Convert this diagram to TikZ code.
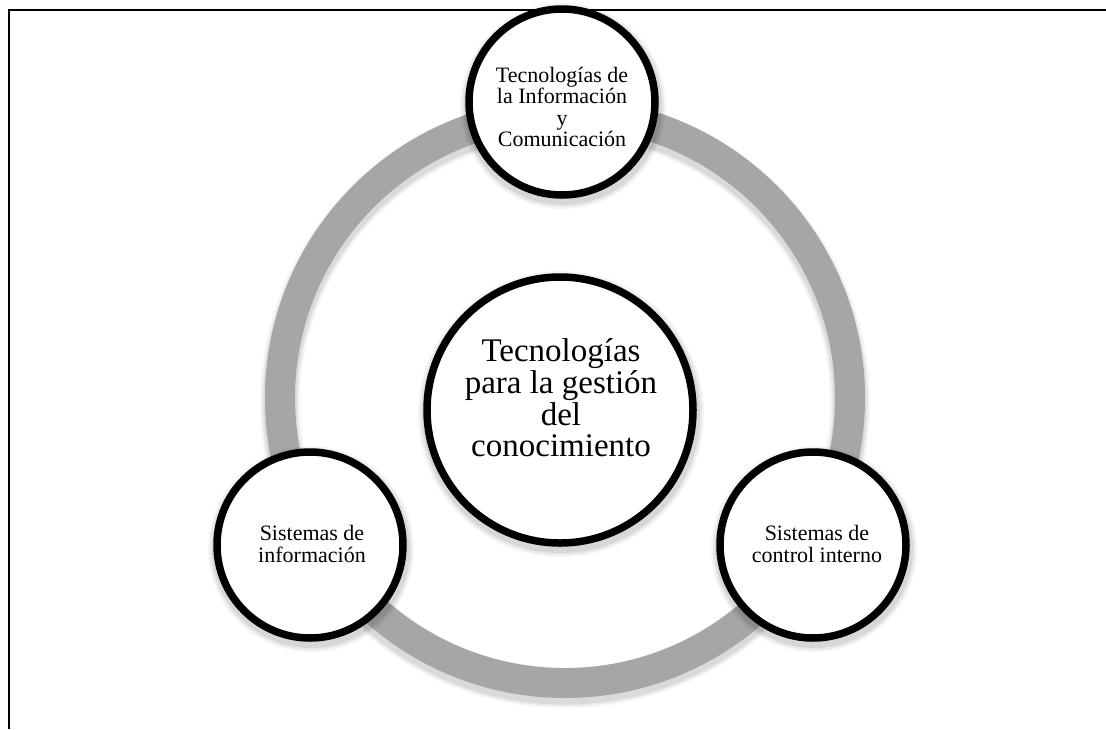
\documentclass[tikz,border=0pt]{standalone}
\usepackage{fontspec}
\setmainfont{Liberation Serif}
\definecolor{ringgray}{HTML}{A6A6A6}

\begin{document}
\begin{tikzpicture}[x=1pt,y=-1pt,
  bubble/.style={circle, draw=black, line width=7.5pt, fill=white, inner sep=0pt},
  small/.style={bubble, minimum size=186pt},
  big/.style={bubble, minimum size=266pt},
  smalltxt/.style={align=center, inner sep=0pt, text=black,
    font=\fontsize{22}{21.5}\selectfont},
  bigtxt/.style={align=center, inner sep=0pt, text=black,
    font=\fontsize{33}{31.7}\selectfont}]

  % page extent
  \path[use as bounding box, fill=white] (0,0) rectangle (1106,729);

  % frame rules, top and left, as thin bars
  \fill[black] (8,729) rectangle (10,9);
  \fill[black] (8,9) rectangle (1106,11);

  % soft shadow under the cycle ring
  \foreach \w/\o in {40/0.04, 36/0.05, 33/0.06} {
    \draw[line width=\w pt, black, opacity=\o] (565,403) circle (285);
  }
  % the cycle ring
  \draw[line width=30pt, ringgray] (565,398) circle (285);

  % soft shadows under the circles
  \foreach \x/\y/\r in {560/410/137, 562/102/97, 310/545/97, 813/545/97} {
    \foreach \d/\o in {6/0.04, 4/0.05, 2/0.07} {
      \fill[black, opacity=\o] (\x+1,\y+4) circle (\r+\d);
    }
  }

  % circles
  \node[big]   (hub)   at (560,410) {};
  \node[small] (tic)   at (562,102) {};
  \node[small] (sinfo) at (310,545) {};
  \node[small] (sctrl) at (813,545) {};

  % circle texts
  \node[bigtxt]   (hub-t)   at (561,398) {Tecnologías\\para la gestión\\del\\conocimiento};
  \node[smalltxt] (tic-t)   at (562,107) {Tecnologías de\\la Información\\y\\Comunicación};
  \node[smalltxt] (sinfo-t) at (312,544) {Sistemas de\\información};
  \node[smalltxt] (sctrl-t) at (817,544) {Sistemas de\\control interno};
\end{tikzpicture}
\end{document}
